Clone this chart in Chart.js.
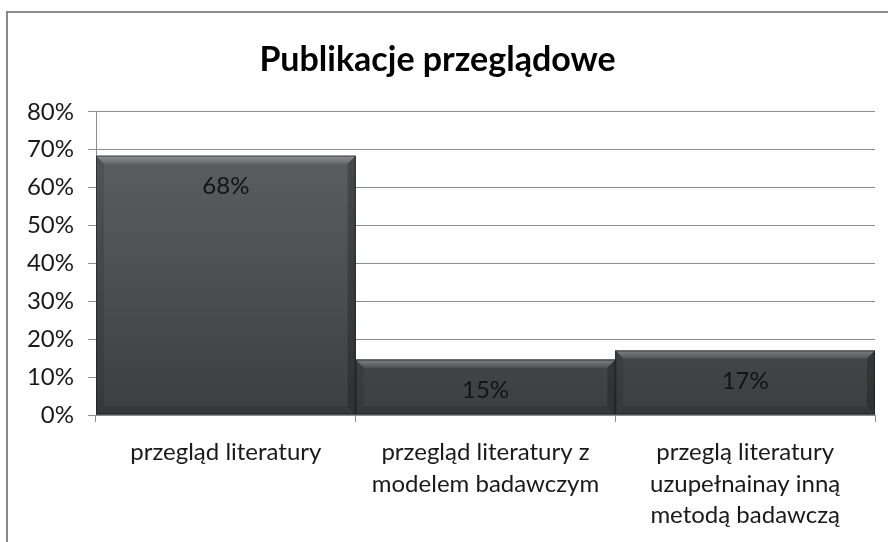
<!DOCTYPE html>
<html>
<head>
<meta charset="utf-8">
<script src="https://cdn.jsdelivr.net/npm/chart.js@4/dist/chart.umd.min.js"></script>
<style>
    html, body { margin: 0; padding: 0; background: #fff; }
    #wrap { position: relative; width: 888px; height: 542px; overflow: hidden; }
    #frame {
        position: absolute; left: 6px; top: 11px; width: 900px; height: 560px;
        border-left: 2px solid #8a8a8a; border-top: 2px solid #8a8a8a;
    }
    canvas { position: absolute; left: 0; top: 0; }
</style>
</head>
<body>
<div id="wrap">
    <div id="frame"></div>
    <canvas id="chart" width="888" height="542"></canvas>
</div>
<script>
// chart data
const categories = [
    ['przegląd literatury'],
    ['przegląd literatury z', 'modelem badawczym'],
    ['przeglą literatury', 'uzupełnainay inną', 'metodą badawczą'],
];
const shares = [68.4, 14.6, 17.0];
const chartTitle = 'Publikacje przeglądowe';

const FONT = 'Lato, "Open Sans", sans-serif';

// gradient fill for the bars, spread over the plot height
function barFill(ctx) {
    const area = ctx.chart.chartArea;
    if (!area) return '#4a4c4e';
    const g = ctx.chart.ctx.createLinearGradient(0, area.top, 0, area.bottom);
    g.addColorStop(0, '#606366');
    g.addColorStop(1, '#3c3e40');
    return g;
}

/**
 * Bevel edges drawn on top of each bar element
 */
const bevelPlugin = {
    id: 'bevel',
    afterDatasetsDraw: (chart) => {
        const ctx = chart.ctx;
        const meta = chart.getDatasetMeta(0);
        meta.data.forEach((bar) => {
            const l = bar.x - bar.width / 2;
            const r = bar.x + bar.width / 2;
            const t = bar.y;
            const b = bar.base;
            const s = Math.min(8, (b - t) / 2);
            ctx.save();
            // top
            const gt = ctx.createLinearGradient(0, t, 0, t + s);
            gt.addColorStop(0, 'rgba(255,255,255,0.32)');
            gt.addColorStop(1, 'rgba(255,255,255,0.08)');
            ctx.fillStyle = gt;
            ctx.beginPath();
            ctx.moveTo(l, t); ctx.lineTo(r, t); ctx.lineTo(r - s, t + s); ctx.lineTo(l + s, t + s);
            ctx.closePath(); ctx.fill();
            // left
            ctx.fillStyle = 'rgba(0,0,0,0.10)';
            ctx.beginPath();
            ctx.moveTo(l, t); ctx.lineTo(l + s, t + s); ctx.lineTo(l + s, b - s); ctx.lineTo(l, b);
            ctx.closePath(); ctx.fill();
            // right
            ctx.fillStyle = 'rgba(0,0,0,0.22)';
            ctx.beginPath();
            ctx.moveTo(r, t); ctx.lineTo(r - s, t + s); ctx.lineTo(r - s, b - s); ctx.lineTo(r, b);
            ctx.closePath(); ctx.fill();
            // bottom
            ctx.fillStyle = 'rgba(0,0,0,0.12)';
            ctx.beginPath();
            ctx.moveTo(l, b); ctx.lineTo(r, b); ctx.lineTo(r - s, b - s); ctx.lineTo(l + s, b - s);
            ctx.closePath(); ctx.fill();
            // outline
            ctx.strokeStyle = 'rgba(20,22,24,0.55)';
            ctx.lineWidth = 1;
            ctx.strokeRect(l + 0.5, t + 0.5, r - l - 1, b - t - 1);
            ctx.restore();
        });
    },
};

/**
 * Value labels inside the top of each bar
 */
const valueLabels = {
    id: 'valueLabels',
    afterDatasetsDraw: (chart) => {
        const ctx = chart.ctx;
        const meta = chart.getDatasetMeta(0);
        ctx.save();
        ctx.font = '24px ' + FONT;
        ctx.fillStyle = '#141414';
        ctx.textAlign = 'center';
        ctx.textBaseline = 'middle';
        meta.data.forEach((bar, i) => {
            ctx.fillText(Math.round(shares[i]) + '%', bar.x, bar.y + 31);
        });
        ctx.restore();
    },
};

new Chart(document.getElementById('chart'), {
    type: 'bar',
    data: {
        labels: categories,
        datasets: [
            {
                data: shares,
                backgroundColor: barFill,
                borderWidth: 0,
                barPercentage: 1,
                categoryPercentage: 1,
            },
        ],
    },
    plugins: [bevelPlugin, valueLabels],
    options: {
        responsive: false,
        animation: false,
        layout: {
            padding: { left: 0, right: 13, top: 0, bottom: 0 },
        },
        plugins: {
            legend: { display: false },
            tooltip: { enabled: false },
            title: {
                display: true,
                text: chartTitle,
                color: '#000',
                font: { family: FONT, size: 34, weight: 'bold' },
                padding: { top: 40, bottom: 31 },
            },
        },
        scales: {
            x: {
                grid: {
                    offset: true,
                    drawOnChartArea: false,
                    drawTicks: true,
                    tickLength: 7,
                    color: '#8c8c8c',
                },
                border: { color: '#8c8c8c', width: 1 },
                ticks: {
                    color: '#1a1a1a',
                    font: { family: FONT, size: 24, lineHeight: 1.3 },
                    padding: 15,
                    maxRotation: 0,
                },
                afterFit: (scale) => {
                    scale.height = 127;
                },
            },
            y: {
                min: 0,
                max: 80,
                ticks: {
                    stepSize: 10,
                    color: '#1a1a1a',
                    font: { family: FONT, size: 24 },
                    padding: 14,
                    callback: (v) => v + '%',
                },
                grid: {
                    color: '#8c8c8c',
                    tickLength: 8,
                },
                border: { color: '#8c8c8c', width: 1 },
                afterFit: (scale) => {
                    scale.width = 96;
                },
            },
        },
    },
});
</script>
</body>
</html>
